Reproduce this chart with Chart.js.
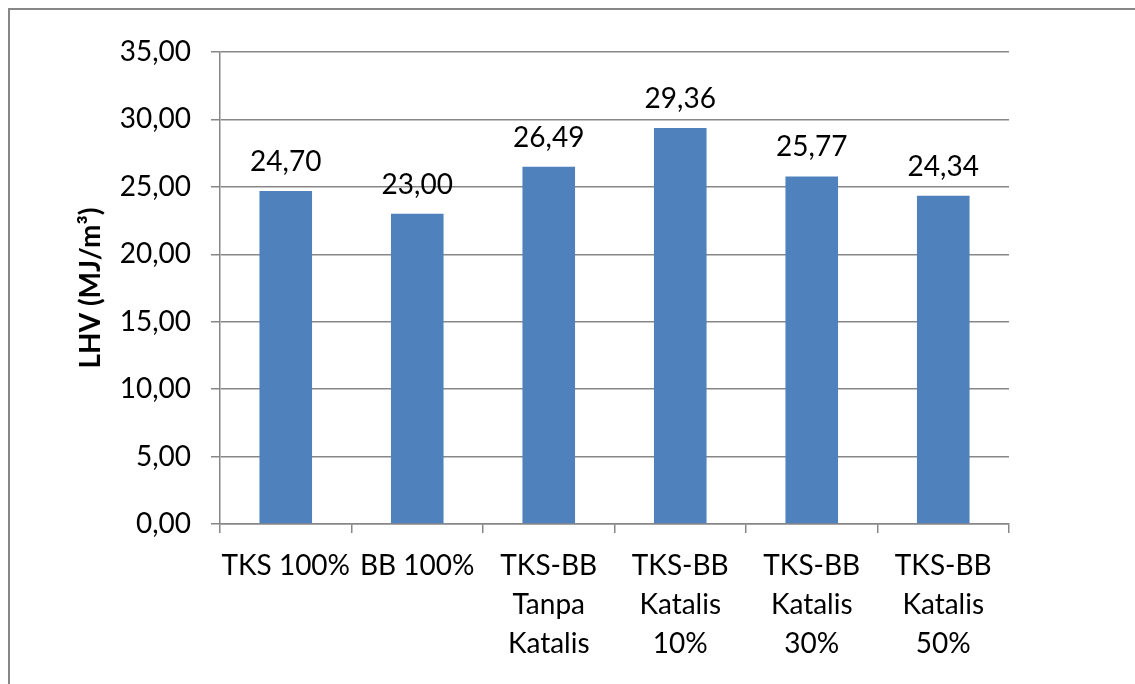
<!DOCTYPE html>
<html>
<head>
<meta charset="utf-8">
<script src="https://cdn.jsdelivr.net/npm/chart.js@4/dist/chart.umd.min.js"></script>
<style>
  html, body { margin: 0; padding: 0; background: #fff; }
  #wrap { width: 1135px; height: 684px; }
</style>
</head>
<body>
<div id="wrap"><canvas id="lhvChart" width="1135" height="684"></canvas></div>
<script>
// --- Data ---
const categories = [
    'TKS 100%',
    'BB 100%',
    ['TKS-BB', 'Tanpa', 'Katalis'],
    ['TKS-BB', 'Katalis', '10%'],
    ['TKS-BB', 'Katalis', '30%'],
    ['TKS-BB', 'Katalis', '50%']
];
const lhvValues = [24.70, 23.00, 26.49, 29.36, 25.77, 24.34];
const yTicks = [0, 5, 10, 15, 20, 25, 30, 35];

const FONT = 'Lato, "Open Sans", sans-serif';
const GRAY = '#878787';
const fmt = v => v.toFixed(2).replace('.', ',');

// --- Plugins ---
const framePlugin = {
    id: 'frame',
    beforeDraw(chart) {
        const ctx = chart.ctx;
        ctx.save();
        ctx.fillStyle = '#fff';
        ctx.fillRect(0, 0, chart.width, chart.height);
        ctx.strokeStyle = GRAY;
        ctx.lineWidth = 2;
        ctx.strokeRect(9, 9, chart.width + 20, chart.height + 20);
        ctx.restore();
    }
};

const valueLabelPlugin = {
    id: 'valueLabels',
    afterDatasetsDraw(chart) {
        const ctx = chart.ctx;
        const meta = chart.getDatasetMeta(0);
        ctx.save();
        ctx.font = '28px ' + FONT;
        ctx.fillStyle = '#000';
        ctx.textAlign = 'center';
        ctx.textBaseline = 'alphabetic';
        meta.data.forEach((bar, i) => {
            ctx.fillText(fmt(lhvValues[i]), bar.x, bar.y - 20);
        });
        ctx.restore();
    }
};

new Chart(document.getElementById('lhvChart'), {
    type: 'bar',
    data: {
        labels: categories,
        datasets: [{
            label: 'LHV',
            data: lhvValues,
            backgroundColor: '#4F81BD',
            borderWidth: 0,
            categoryPercentage: 1,
            barPercentage: 0.4
        }]
    },
    options: {
        responsive: false,
        animation: false,
        layout: {
            padding: { left: 10, right: 126, top: 52, bottom: 0 }
        },
        plugins: {
            legend: { display: false },
            tooltip: { enabled: false }
        },
        scales: {
            x: {
                offset: true,
                grid: {
                    drawOnChartArea: false,
                    drawTicks: true,
                    tickLength: 9,
                    color: GRAY,
                    lineWidth: 1.5,
                    offset: true
                },
                border: { color: GRAY, width: 1.5 },
                ticks: {
                    color: '#000',
                    font: { family: FONT, size: 28, lineHeight: 1.39 },
                    padding: 14,
                    maxRotation: 0,
                    autoSkip: false
                },
                afterFit(scale) { scale.height = 160; }
            },
            y: {
                min: 0,
                max: 35,
                afterBuildTicks(scale) {
                    scale.ticks = yTicks.map(v => ({ value: v }));
                },
                grid: {
                    color: GRAY,
                    lineWidth: 1.5,
                    tickLength: 9
                },
                border: { color: GRAY, width: 1.5 },
                ticks: {
                    color: '#000',
                    font: { family: FONT, size: 28 },
                    padding: 20,
                    callback: v => fmt(v)
                },
                title: {
                    display: true,
                    text: 'LHV (MJ/m³)',
                    color: '#000',
                    font: { family: FONT, size: 28, weight: 'bold' },
                    padding: { top: 64, bottom: 0 }
                },
                afterFit(scale) { scale.width = 210; }
            }
        }
    },
    plugins: [framePlugin, valueLabelPlugin]
});
</script>
</body>
</html>
